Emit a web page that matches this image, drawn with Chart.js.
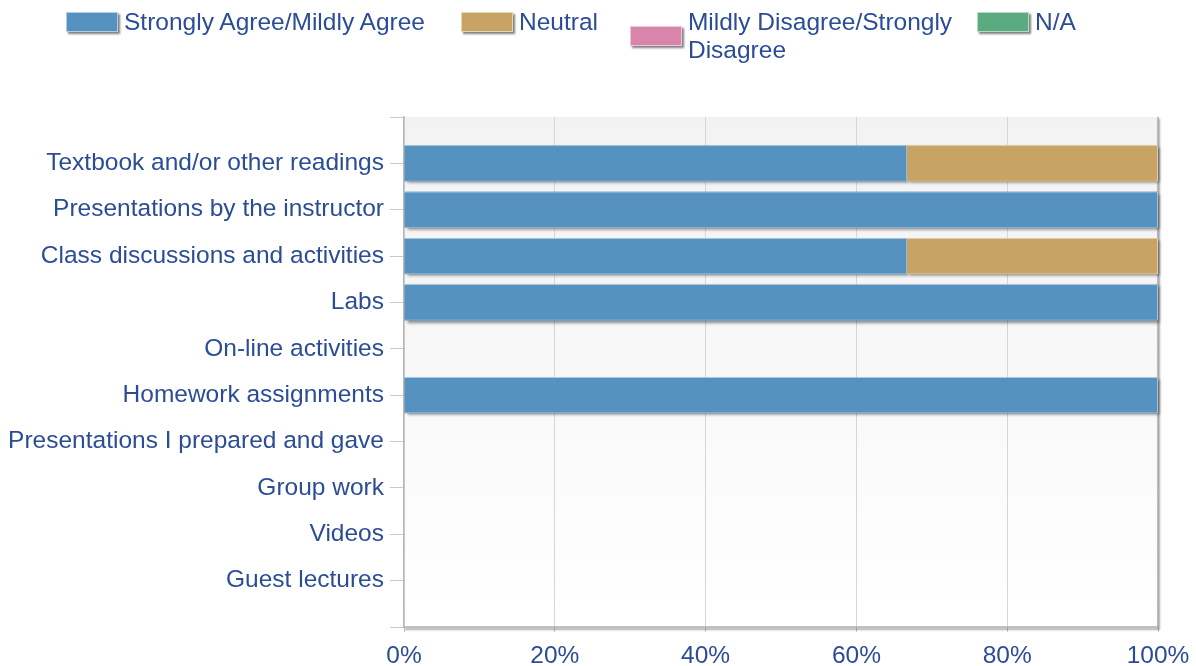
<!DOCTYPE html>
<html>
<head>
<meta charset="utf-8">
<script src="https://cdn.jsdelivr.net/npm/chart.js@4.4.1/dist/chart.umd.min.js"></script>
<style>
    body { margin: 0; background: #fff; }
    #wrap { position: relative; width: 1196px; height: 666px; }
    #myChart { position: absolute; left: 0; top: 0; }
    .legend { position: absolute; left: 66px; top: 8px; display: flex; align-items: flex-start;
              font-family: "Liberation Sans", Arial, sans-serif; font-size: 24.5px; color: #2b4c96; }
    .item { display: flex; align-items: center; margin-right: 36px; }
    .box { width: 50px; height: 18px; border: 1px solid rgba(255,255,255,0.55);
           box-shadow: 2px 2px 2px rgba(0,0,0,0.5); margin-right: 6px; }
    .text { line-height: 28px; }
</style>
</head>
<body>
<div id="wrap">
    <canvas id="myChart" width="1196" height="666"></canvas>
    <div class="legend" id="legend"></div>
</div>
<script>
const categories = [
    'Textbook and/or other readings',
    'Presentations by the instructor',
    'Class discussions and activities',
    'Labs',
    'On-line activities',
    'Homework assignments',
    'Presentations I prepared and gave',
    'Group work',
    'Videos',
    'Guest lectures'
];
const seriesNames = ['Strongly Agree/Mildly Agree', 'Neutral', 'Mildly Disagree/Strongly Disagree', 'N/A'];
const agree    = [66.7, 100, 66.7, 100, 0, 100, 0, 0, 0, 0];
const neutral  = [33.3, 0, 33.3, 0, 0, 0, 0, 0, 0, 0];
const disagree = [0, 0, 0, 0, 0, 0, 0, 0, 0, 0];
const notApp   = [0, 0, 0, 0, 0, 0, 0, 0, 0, 0];
const xTicks = [0, 20, 40, 60, 80, 100];

const colors = ['#5592c0', '#c8a464', '#d884ab', '#5aab7f'];
const textColor = '#2b4c96';
const font = { family: '"Liberation Sans", Arial, sans-serif', size: 24.5 };

// empty slot above and below the categories, like the original axis
const labels = [''].concat(categories, ['']);
const pad = arr => [null].concat(arr, [null]);

// grey gradient behind the plot area
const plotBackground = {
    id: 'plotBackground',
    beforeDraw(chart) {
        const { ctx, chartArea: a } = chart;
        const g = ctx.createLinearGradient(0, a.top, 0, a.bottom);
        g.addColorStop(0, '#f2f2f2');
        g.addColorStop(1, '#ffffff');
        ctx.save();
        ctx.fillStyle = g;
        ctx.fillRect(a.left, a.top, a.right - a.left, a.bottom - a.top);
        ctx.restore();
    }
};

// right/bottom frame and drop shadows under the bars
const shadows = {
    id: 'shadows',
    beforeDatasetsDraw(chart) {
        const { ctx, chartArea: a } = chart;
        ctx.save();
        ctx.shadowColor = 'rgba(0,0,0,0.45)';
        ctx.shadowOffsetX = 1;
        ctx.shadowOffsetY = 2;
        ctx.shadowBlur = 2;
        ctx.strokeStyle = '#b0b0b0';
        ctx.lineWidth = 1.5;
        ctx.beginPath();
        ctx.moveTo(a.right, a.top);
        ctx.lineTo(a.right, a.bottom);
        ctx.lineTo(a.left, a.bottom);
        ctx.stroke();

        ctx.shadowOffsetX = 2;
        ctx.shadowOffsetY = 2;
        ctx.shadowBlur = 3;
        chart.data.datasets.forEach((ds, i) => {
            const meta = chart.getDatasetMeta(i);
            meta.data.forEach(bar => {
                const p = bar.getProps(['x', 'y', 'base', 'height'], true);
                if (!p.height || Math.abs(p.x - p.base) < 1) return;
                ctx.fillStyle = ds.backgroundColor;
                ctx.fillRect(Math.min(p.base, p.x), p.y - p.height / 2, Math.abs(p.x - p.base), p.height);
            });
        });
        ctx.restore();
    }
};

const ctx = document.getElementById('myChart').getContext('2d');
const myChart = new Chart(ctx, {
    type: 'bar',
    data: {
        labels: labels,
        datasets: [agree, neutral, disagree, notApp].map((vals, i) => ({
            label: seriesNames[i],
            data: pad(vals),
            backgroundColor: colors[i],
            borderColor: 'rgba(255,255,255,0.45)',
            borderWidth: 1,
            categoryPercentage: 1,
            barPercentage: 0.78
        }))
    },
    options: {
        indexAxis: 'y',
        responsive: false,
        animation: false,
        layout: { padding: { top: 117, right: 38, left: 0, bottom: 0 } },
        plugins: {
            legend: { display: false },
            tooltip: { enabled: false }
        },
        scales: {
            x: {
                stacked: true,
                min: 0,
                max: 100,
                afterBuildTicks(scale) {
                    scale.ticks = xTicks.map(v => ({ value: v }));
                },
                afterFit(scale) {
                    scale.height = 39;
                    scale.paddingLeft = 0;
                    scale.paddingRight = 0;
                },
                ticks: {
                    color: textColor,
                    font: font,
                    padding: 10,
                    callback: v => v + '%'
                },
                grid: { color: '#d6d6d6', tickLength: 5, tickColor: '#c8c8c8' },
                border: { display: false }
            },
            y: {
                stacked: true,
                offset: false,
                afterFit(scale) { scale.width = 404; },
                ticks: { color: textColor, font: font, padding: 6, autoSkip: false },
                grid: { drawOnChartArea: false, offset: false, tickLength: 14, color: '#c8c8c8' },
                border: { color: '#b8b8b8', width: 1.5 }
            }
        }
    },
    plugins: [plotBackground, shadows]
});

// html legend so the long label can wrap onto two lines
const legend = document.getElementById('legend');
seriesNames.forEach((name, i) => {
    const item = document.createElement('div');
    item.className = 'item';
    const box = document.createElement('div');
    box.className = 'box';
    box.style.background = colors[i];
    const text = document.createElement('div');
    text.className = 'text';
    text.textContent = name;
    if (i === 1) item.style.marginRight = '32px';
    if (i === 2) {
        text.style.width = '268px';
        item.style.marginRight = '21px';
    }
    item.appendChild(box);
    item.appendChild(text);
    legend.appendChild(item);
});
</script>
</body>
</html>
